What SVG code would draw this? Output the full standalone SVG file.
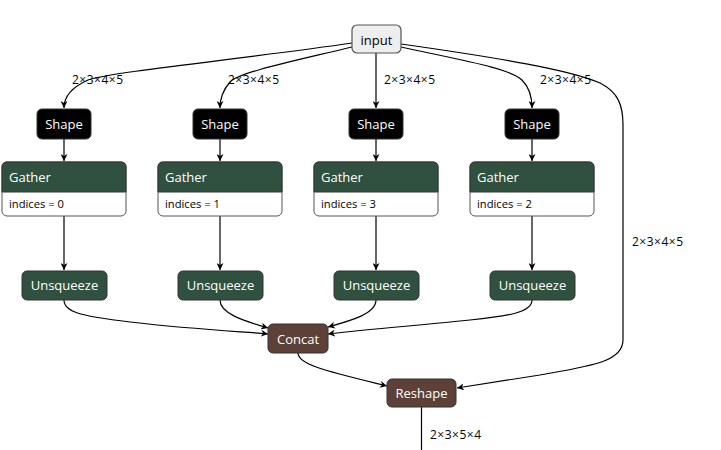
<svg xmlns="http://www.w3.org/2000/svg" width="721" height="450" viewBox="0 0 721 450">
  <style>
    .lbl { font-family: "Open Sans", "Noto Sans", "Liberation Sans", sans-serif; font-size: 13px; fill: #fff; text-anchor: middle; }
    .hdr { font-family: "Open Sans", "Noto Sans", "Liberation Sans", sans-serif; font-size: 13px; fill: #fff; }
    .attr { font-family: "Open Sans", "Noto Sans", "Liberation Sans", sans-serif; font-size: 11.2px; fill: #000; }
    .elbl { font-family: "Open Sans", "Noto Sans", "Liberation Sans", sans-serif; font-size: 12px; fill: #000; letter-spacing: 0.5px; }
    .edge { fill: none; stroke: #000; stroke-width: 1.2; marker-end: url(#arrow); }
    .plain { fill: none; stroke: #000; stroke-width: 1.2; }
    .op-shape { fill: #000; stroke: #333; }
    .op-transform { fill: #30513f; stroke: #333; }
    .op-tensor { fill: #5d4037; stroke: #333; }
    .attrbox { fill: #fff; stroke: #555; stroke-width: 1; }
  </style>
  <defs>
    <marker id="arrow" viewBox="0 0 10 10" refX="10" refY="5" markerWidth="7" markerHeight="7" markerUnits="userSpaceOnUse" orient="auto">
      <path d="M0,0 L10,5 L0,10 L3,5 z" fill="#000"/>
    </marker>
  </defs>

  <rect width="721" height="450" fill="#fff"/>

  <!-- connectors -->
  <g id="edges">
    <path class="edge" d="M352,43 C250,58 110,72 88,80 C70,88 64,98 64,108"/>
    <path class="edge" d="M352,47 C290,62 240,72 230,82 C223,90 220,98 220,108"/>
    <path class="edge" d="M376,53 L376,108"/>
    <path class="edge" d="M401,47 C460,60 510,68 522,80 C530,88 532,98 532,108"/>
    <path class="edge" d="M401,44 C500,58 570,70 600,83 C618,92 623,105 623,125 L623,340 C623,362 590,366 540,375 C500,381 475,385 457,388"/>

    <path class="edge" d="M64,139 L64,161"/>
    <path class="edge" d="M220,139 L220,161"/>
    <path class="edge" d="M376,139 L376,161"/>
    <path class="edge" d="M532,139 L532,161"/>

    <path class="edge" d="M64,216 L64,270"/>
    <path class="edge" d="M220,216 L220,270"/>
    <path class="edge" d="M376,216 L376,270"/>
    <path class="edge" d="M532,216 L532,270"/>

    <path class="edge" d="M64,300 C64,312 80,316 130,322 C200,330 250,332 268,334"/>
    <path class="edge" d="M220,300 C220,314 245,321 268,328"/>
    <path class="edge" d="M376,300 C376,314 350,321 328,327"/>
    <path class="edge" d="M532,300 C532,312 510,316 470,320 C400,327 350,331 328,334"/>

    <path class="edge" d="M298,353 C298,365 330,372 387,386"/>
    <path class="plain" d="M421.5,407 L421.5,450"/>

    <text class="elbl" x="72" y="84">2×3×4×5</text>
    <text class="elbl" x="228" y="84">2×3×4×5</text>
    <text class="elbl" x="384" y="84">2×3×4×5</text>
    <text class="elbl" x="540" y="84">2×3×4×5</text>
    <text class="elbl" x="632" y="246">2×3×4×5</text>
    <text class="elbl" x="430" y="439">2×3×5×4</text>
  </g>

  <!-- nodes -->
  <g id="input">
    <rect x="352" y="25" width="49" height="28" rx="5" fill="#eee" stroke="#555" stroke-width="1.2"/>
    <text class="lbl" x="376.5" y="44.5" style="fill:#000">input</text>
  </g>

  <g id="shape_0">
    <rect class="op-shape" x="37" y="109" width="54" height="30" rx="5"/>
    <text class="lbl" x="64" y="128.5">Shape</text>
  </g>
  <g id="shape_1">
    <rect class="op-shape" x="193" y="109" width="54" height="30" rx="5"/>
    <text class="lbl" x="220" y="128.5">Shape</text>
  </g>
  <g id="shape_2">
    <rect class="op-shape" x="349" y="109" width="54" height="30" rx="5"/>
    <text class="lbl" x="376" y="128.5">Shape</text>
  </g>
  <g id="shape_3">
    <rect class="op-shape" x="505" y="109" width="54" height="30" rx="5"/>
    <text class="lbl" x="532" y="128.5">Shape</text>
  </g>

  <g id="gather_0">
    <rect class="attrbox" x="2" y="162" width="124" height="54" rx="5"/>
    <path class="op-transform" d="M2,192 L2,167 Q2,162 7,162 L121,162 Q126,162 126,167 L126,192 Z"/>
    <text class="hdr" x="9" y="182">Gather</text>
    <text class="attr" x="9" y="208">indices = 0</text>
  </g>
  <g id="gather_1">
    <rect class="attrbox" x="158" y="162" width="124" height="54" rx="5"/>
    <path class="op-transform" d="M158,192 L158,167 Q158,162 163,162 L277,162 Q282,162 282,167 L282,192 Z"/>
    <text class="hdr" x="165" y="182">Gather</text>
    <text class="attr" x="165" y="208">indices = 1</text>
  </g>
  <g id="gather_2">
    <rect class="attrbox" x="314" y="162" width="124" height="54" rx="5"/>
    <path class="op-transform" d="M314,192 L314,167 Q314,162 319,162 L433,162 Q438,162 438,167 L438,192 Z"/>
    <text class="hdr" x="321" y="182">Gather</text>
    <text class="attr" x="321" y="208">indices = 3</text>
  </g>
  <g id="gather_3">
    <rect class="attrbox" x="470" y="162" width="124" height="54" rx="5"/>
    <path class="op-transform" d="M470,192 L470,167 Q470,162 475,162 L589,162 Q594,162 594,167 L594,192 Z"/>
    <text class="hdr" x="477" y="182">Gather</text>
    <text class="attr" x="477" y="208">indices = 2</text>
  </g>

  <g id="unsqueeze_0">
    <rect class="op-transform" x="22" y="271" width="85" height="29" rx="5"/>
    <text class="lbl" x="64.5" y="290">Unsqueeze</text>
  </g>
  <g id="unsqueeze_1">
    <rect class="op-transform" x="178" y="271" width="85" height="29" rx="5"/>
    <text class="lbl" x="220.5" y="290">Unsqueeze</text>
  </g>
  <g id="unsqueeze_2">
    <rect class="op-transform" x="334" y="271" width="85" height="29" rx="5"/>
    <text class="lbl" x="376.5" y="290">Unsqueeze</text>
  </g>
  <g id="unsqueeze_3">
    <rect class="op-transform" x="490" y="271" width="85" height="29" rx="5"/>
    <text class="lbl" x="532.5" y="290">Unsqueeze</text>
  </g>

  <g id="concat">
    <rect class="op-tensor" x="268" y="324" width="60" height="29" rx="5"/>
    <text class="lbl" x="298" y="343.5">Concat</text>
  </g>
  <g id="reshape">
    <rect class="op-tensor" x="387" y="379" width="69" height="28" rx="5"/>
    <text class="lbl" x="421.5" y="398">Reshape</text>
  </g>
</svg>
